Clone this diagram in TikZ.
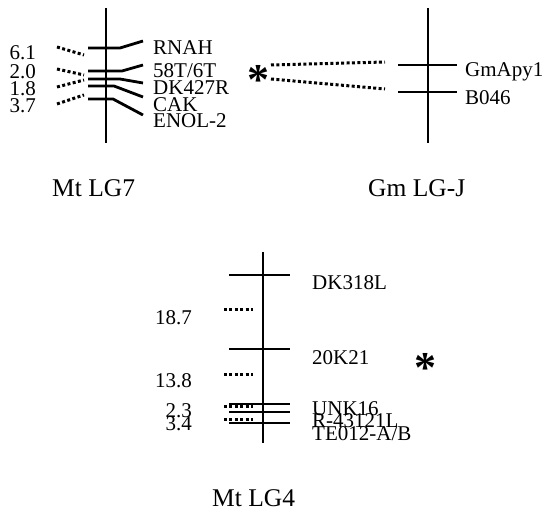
\documentclass[tikz,border=0pt]{standalone}
\usepackage{fontspec}
\setmainfont{Liberation Serif}
\usetikzlibrary{positioning}

\begin{document}
\begin{tikzpicture}[x=1pt,y=-1pt]
  % Styles local to this figure.
  \tikzset{
    chrom/.style={line width=2.8pt},
    tick/.style={line width=2.8pt},
    dots/.style={line width=3pt,dash pattern=on 3pt off 2.4pt},
    lbl/.style={anchor=base west,inner sep=0pt,font=\fontsize{21}{21}\selectfont},
    dist/.style={anchor=base east,inner sep=0pt,font=\fontsize{21}{21}\selectfont},
    lgname/.style={anchor=base west,inner sep=0pt,font=\fontsize{25.5}{25.5}\selectfont},
    star/.style={inner sep=0pt,font=\fontsize{44}{44}\selectfont\bfseries}
  }
  \useasboundingbox (0,0) rectangle (550,513);

  % Mt LG7: chromosome, bent ticks and marker names.
  \coordinate (a-top) at (106,8);
  \coordinate (a-bot) at (106,143);
  \draw[chrom] (a-top) -- (a-bot);
  \foreach \y/\k/\e/\b/\t [count=\i] in
    {48/120/41/55/RNAH, 71/122/65/78/{58T/6T}, 79/120/83/95/DK427R,
     86/114/97/112/CAK, 99/113/115/128/ENOL-2} {
    \coordinate (a-l\i) at (88,\y);
    \coordinate (a-k\i) at (\k,\y);
    \coordinate (a-e\i) at (143,\e);
    \draw[tick] (a-l\i) -- (a-k\i) -- (a-e\i);
    \node[lbl] (a-m\i) at (153,\b) {\t};
  }
  % Distances with their dotted leaders.
  \foreach \b/\t/\sy/\ey [count=\i] in
    {60/6.1/47/55, 79/2.0/69/75, 96/1.8/87/80, 113/3.7/104/95} {
    \node[dist] (a-d\i) at (36,\b) {\t};
    \coordinate (a-s\i) at (57,\sy);
    \coordinate (a-f\i) at (84,\ey);
    \draw[dots] (a-s\i) -- (a-f\i);
  }
  \node[lgname] (a-name) at (52,197) {Mt LG7};

  % Gm LG-J and its link to Mt LG7.
  \coordinate (b-top) at (428,8);
  \coordinate (b-bot) at (428,143);
  \draw[chrom] (b-top) -- (b-bot);
  \foreach \y/\b/\t [count=\i] in {65/77/GmApy1, 92/105/B046} {
    \coordinate (b-l\i) at (398,\y);
    \coordinate (b-r\i) at (457,\y);
    \draw[tick] (b-l\i) -- (b-r\i);
    \node[lbl] (b-m\i) at (465,\b) {\t};
  }
  \node[lgname] (b-name) at (368,197) {Gm LG-J};
  \node[star] (star1) at (258,80) {*};
  \coordinate (p1) at (271,65);
  \coordinate (q1) at (385,62);
  \coordinate (p2) at (271,79);
  \coordinate (q2) at (385,89);
  \draw[dots] (p1) -- (q1);
  \draw[dots] (p2) -- (q2);

  % Mt LG4: chromosome, ticks, names and distances.
  \coordinate (c-top) at (263,252);
  \coordinate (c-bot) at (263,443);
  \draw[chrom] (c-top) -- (c-bot);
  \foreach \y [count=\i] in {275,349,404,412,423} {
    \coordinate (c-l\i) at (229,\y);
    \coordinate (c-r\i) at (290,\y);
    \draw[tick] (c-l\i) -- (c-r\i);
  }
  \foreach \b/\t [count=\i] in
    {290/DK318L, 365/20K21, 416/UNK16, 428/R-43121L, 441/TE012-A\slash B} {
    \node[lbl] (c-m\i) at (312,\b) {\t};
  }
  \foreach \y/\b/\t [count=\i] in
    {310/325/18.7, 375/388/13.8, 407/418/2.3, 420/431/3.4} {
    \node[dist] (c-d\i) at (192,\b) {\t};
    \coordinate (c-s\i) at (224,\y);
    \coordinate (c-f\i) at (253,\y);
    \draw[dots] (c-s\i) -- (c-f\i);
  }
  \node[star] (star2) at (425,368) {*};
  \node[lgname] (c-name) at (212,507) {Mt LG4};
\end{tikzpicture}
\end{document}
